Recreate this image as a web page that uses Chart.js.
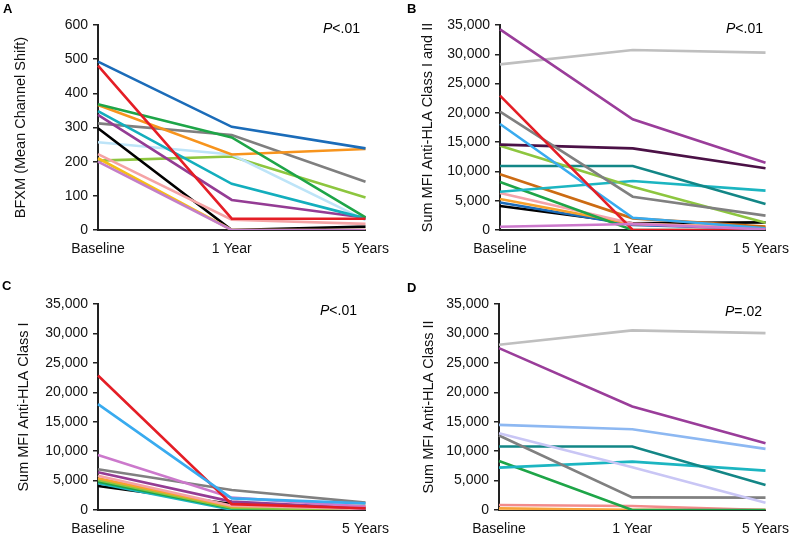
<!DOCTYPE html>
<html>
<head>
<meta charset="utf-8">
<script src="https://cdn.jsdelivr.net/npm/chart.js@4.4.1/dist/chart.umd.min.js"></script>
<style>
    body { margin: 0; background: #fff; font-family: 'Liberation Sans', Arial, sans-serif; }
    #page { position: relative; width: 800px; height: 537px; overflow: hidden; }
    canvas { position: absolute; }
    .tag { position: absolute; font-weight: bold; font-size: 13px; color: #000; }
    .pval { position: absolute; font-size: 14px; line-height: 16px; color: #000; }
</style>
</head>
<body>
<div id="page">
    <canvas id="chartA" width="400" height="262" style="left:0;top:0"></canvas>
    <canvas id="chartB" width="400" height="262" style="left:400px;top:0"></canvas>
    <canvas id="chartC" width="400" height="275" style="left:0;top:262px"></canvas>
    <canvas id="chartD" width="400" height="275" style="left:400px;top:262px"></canvas>

    <div class="tag" style="left:3px;top:1px">A</div>
    <div class="tag" style="left:407px;top:1px">B</div>
    <div class="tag" style="left:2px;top:278px">C</div>
    <div class="tag" style="left:407px;top:280px">D</div>

    <div class="pval" style="left:323px;top:20px"><i>P</i>&lt;.01</div>
    <div class="pval" style="left:726px;top:20px"><i>P</i>&lt;.01</div>
    <div class="pval" style="left:320px;top:302px"><i>P</i>&lt;.01</div>
    <div class="pval" style="left:725px;top:303px"><i>P</i>=.02</div>
</div>

<script>
// time points
const categories = ['Baseline', '1 Year', '5 Years'];

// --- Panel A: BFXM ---
const bfxmSeries = [
    [200, 0, 0],
    [210, 0, 0],
    [493, 302, 239],
    [481, 33, 33],
    [222, 30, 18],
    [298, 0, 10],
    [368, 271, 37],
    [366, 221, 237],
    [348, 135, 34],
    [337, 88, 36],
    [312, 278, 141],
    [257, 221, 29],
    [203, 215, 95]
];
const bfxmColors = ['#c47ec8', '#f6bd16', '#1b6cb9', '#e41e26', '#f5a3a5', '#000000', '#1ea548',
    '#f7941d', '#13aebd', '#943c94', '#7f7f7f', '#bde4f8', '#8dc63f'];

// --- Panel B: Sum MFI class I and II ---
const mfiTotalSeries = [
    [560, 1020, 100],
    [22940, 0, 0],
    [18100, 2100, 290],
    [34260, 18890, 11500],
    [28280, 30730, 30280],
    [20200, 5690, 2450],
    [14570, 13940, 10530],
    [14400, 7400, 1250],
    [10930, 10930, 4440],
    [6540, 8370, 6720],
    [9500, 1990, 570],
    [8200, 0, 0],
    [6300, 1100, 280],
    [5300, 1020, 450],
    [4700, 850, 200],
    [4100, 1150, 1310]
];
const mfiTotalColors = ['#cc79cc', '#e41e26', '#39abef', '#9a3d9a', '#bfbfbf', '#808080', '#4b1146',
    '#8dc63f', '#138686', '#1cb5c1', '#cc6b13', '#1ea548', '#f4a3aa', '#f7a12c', '#1b6cb9', '#000000'];

// --- Panel C: Sum MFI class I ---
const mfiClass1Series = [
    [17980, 1980, 1130],
    [22860, 1000, 300],
    [9340, 2100, 570],
    [6910, 3400, 1250],
    [6400, 1420, 280],
    [5830, 740, 170],
    [5380, 620, 700],
    [5100, 400, 0],
    [4820, 280, 0],
    [4530, 60, 0],
    [4080, 1020, 390]
];
const mfiClass1Colors = ['#39abef', '#e41e26', '#cc79cc', '#808080', '#943c94', '#f5a3a5', '#f7a12c',
    '#8dc63f', '#1ea548', '#1cb5c1', '#000000'];

// --- Panel D: Sum MFI class II ---
const mfiClass2Series = [
    [28080, 30520, 30060],
    [27510, 17590, 11350],
    [14460, 13730, 10380],
    [13050, 7260, 1250],
    [12650, 2150, 2100],
    [10780, 10780, 4250],
    [7200, 8220, 6690],
    [8340, 0, 0],
    [850, 680, 0],
    [300, 0, 0],
    [150, 50, 0]
];
const mfiClass2Colors = ['#bfbfbf', '#9a3d9a', '#8db8f2', '#c9c6f5', '#808080', '#138686', '#1cb5c1',
    '#1ea548', '#f28b8b', '#f6a33a', '#fcc98a'];

const yTicksA = { max: 600, step: 100 };
const yTicksMfi = { max: 35000, step: 5000 };

const baseFont = { family: "'Liberation Sans', Arial, sans-serif", size: 14 };

function makeChart(id, series, colors, yTitle, yRange, opts) {
    const ctx = document.getElementById(id).getContext('2d');
    return new Chart(ctx, {
        type: 'line',
        data: {
            labels: categories,
            datasets: series.map((vals, i) => ({
                data: vals,
                borderColor: colors[i],
                backgroundColor: colors[i],
                borderWidth: 2.6,
                pointRadius: 0,
                tension: 0,
                fill: false
            }))
        },
        options: {
            responsive: false,
            animation: false,
            events: [],
            layout: { padding: { left: 0, top: opts.top, right: opts.right, bottom: 0 } },
            plugins: { legend: { display: false }, tooltip: { enabled: false } },
            scales: {
                x: {
                    offset: false,
                    grid: { display: false, drawTicks: false },
                    border: { display: true, color: '#222', width: 2 },
                    ticks: { color: '#111', font: baseFont, padding: 11, maxRotation: 0, autoSkip: false },
                    afterFit: s => { s.height = opts.xHeight; }
                },
                y: {
                    min: 0,
                    max: yRange.max,
                    grid: { drawOnChartArea: false, drawTicks: true, tickLength: 5, color: '#222', lineWidth: 1.5 },
                    border: { display: true, color: '#222', width: 2 },
                    ticks: { stepSize: yRange.step, color: '#111', font: baseFont, padding: 5 },
                    title: {
                        display: true,
                        text: yTitle,
                        color: '#111',
                        font: { family: baseFont.family, size: 14.5 },
                        padding: { top: opts.titlePad, bottom: 0 }
                    },
                    afterFit: s => { s.width = opts.yWidth; }
                }
            }
        }
    });
}

document.addEventListener('DOMContentLoaded', function() {
    makeChart('chartA', bfxmSeries, bfxmColors, 'BFXM (Mean Channel Shift)', yTicksA,
        { top: 25, right: 30, xHeight: 32, yWidth: 98, titlePad: 12 });
    makeChart('chartB', mfiTotalSeries, mfiTotalColors, 'Sum MFI Anti-HLA Class I and II', yTicksMfi,
        { top: 25, right: 25, xHeight: 32, yWidth: 100, titlePad: 19 });
    makeChart('chartC', mfiClass1Series, mfiClass1Colors, 'Sum MFI Anti-HLA Class I', yTicksMfi,
        { top: 42, right: 30, xHeight: 27, yWidth: 98, titlePad: 15 });
    makeChart('chartD', mfiClass2Series, mfiClass2Colors, 'Sum MFI Anti-HLA Class II', yTicksMfi,
        { top: 42, right: 26, xHeight: 27, yWidth: 99, titlePad: 20 });
});
</script>
</body>
</html>
